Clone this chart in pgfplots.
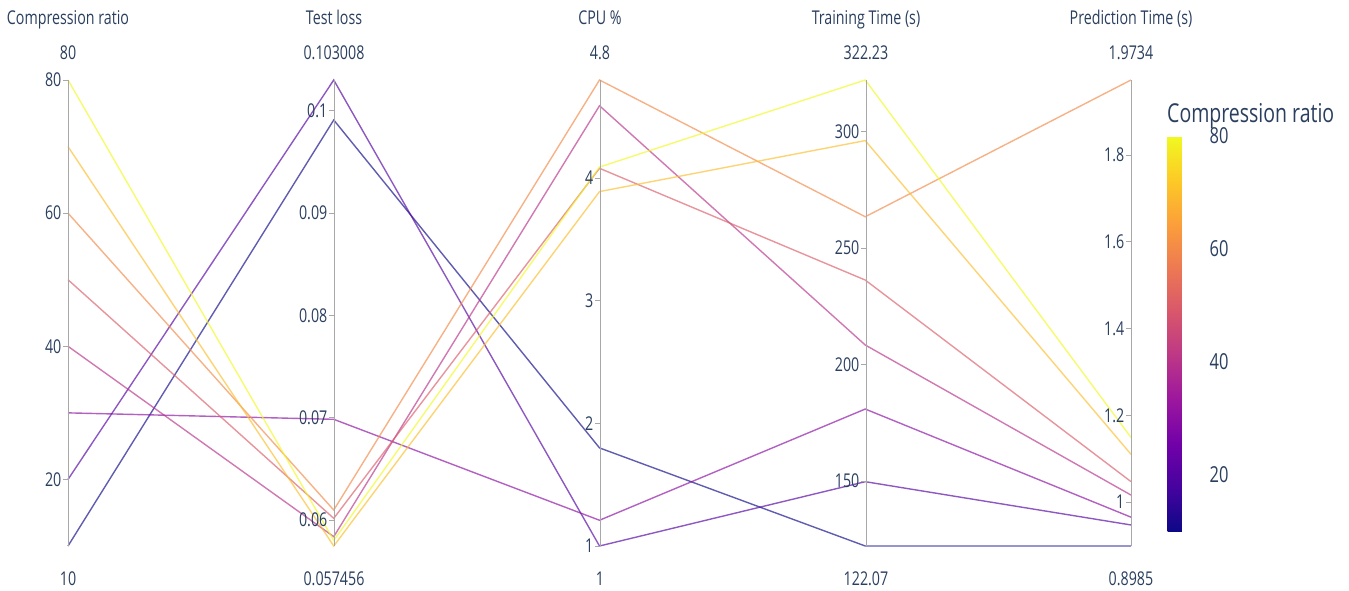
\documentclass[border=0pt]{standalone}
\usepackage{pgfplots}
\pgfplotsset{compat=1.18}
\usepackage{pgfplotstable}
\usepackage{fontspec}
\setmainfont{Open Sans}[FakeStretch=0.75]

\definecolor{txt}{HTML}{2A3F5F}
\definecolor{axisgray}{HTML}{A8A8A8}

\pgfplotsset{
  colormap={plasma}{
    rgb255=(13,8,135) rgb255=(70,3,159) rgb255=(114,1,168) rgb255=(156,23,158)
    rgb255=(189,55,134) rgb255=(216,87,107) rgb255=(237,121,83) rgb255=(251,159,58)
    rgb255=(253,202,38) rgb255=(240,249,33)},
}

\newcommand\labfont{\fontsize{19}{22}\selectfont}

% one row per dimension; lo/hi are the axis ranges, rNN the run with compression ratio NN
\pgfplotstableread{
dim lo        hi        r10      r20      r30     r40     r50     r60     r70      r80
0   10        80        10       20       30      40      50      60      70       80
1   0.057456  0.103008  0.099098 0.103008 0.06984 0.05837 0.06016 0.06097 0.057456 0.05800
2   1         4.8       1.80     1        1.21    4.59    4.08    4.8     3.89     4.09
3   122.07    322.23    122.07   149.7    180.9   208.4   236.3   263.5   296.2    322.23
4   0.8985    1.9734    0.8985   0.947    0.965   1.016   1.047   1.9734  1.110    1.149
}\runs

\pgfplotsset{
  dimaxis/.style={
    anchor=south west, scale only axis, width=1pt, height=466pt,
    xmin=0, xmax=1, hide x axis, axis y line*=left,
    y axis line style={draw=axisgray, line width=0.8pt},
    ytick style={draw=axisgray, line width=0.8pt},
    tick align=outside, major tick length=5pt,
    yticklabel style={font=\labfont, text=txt, inner sep=1.5pt},
    scaled y ticks=false,
    /pgf/number format/assume math mode=true,
    /pgf/number format/fixed,
  },
  run/.style={line width=1.4pt, draw opacity=0.66, color of colormap={#1 of plasma}},
}

\newcommand\runplot[2]{%
  \addplot[run=#2] table[x=dim, y expr={(\thisrow{#1}-\thisrow{lo})/(\thisrow{hi}-\thisrow{lo})}] {\runs};
}

\begin{document}
\begin{tikzpicture}
\path[use as bounding box] (0,0) rectangle (1349pt,590pt);

% polylines of the eight runs on a common normalised scale
\begin{axis}[
  at={(68pt,44pt)}, anchor=south west,
  scale only axis, width=1063pt, height=466pt,
  xmin=0, xmax=4, ymin=0, ymax=1,
  axis line style={draw=none}, xtick=\empty, ytick=\empty,
  clip=false, no marks,
  colormap name=plasma,
  point meta min=10, point meta max=80,
  colorbar,
  colorbar style={
    at={(parent axis.north east)}, anchor=north west,
    xshift=28pt, yshift=-56pt,
    scale only axis, width=40pt, height=395pt,
    ytick={20,40,60,80}, xtick=\empty,
    major tick length=0pt,
    axis line style={draw=none},
    yticklabel style={font=\fontsize{22}{24}\selectfont, text=txt, inner sep=2pt},
    /pgf/number format/assume math mode=true,
  },
]
\runplot{r10}{0}
\runplot{r20}{142.857}
\runplot{r30}{285.714}
\runplot{r40}{428.571}
\runplot{r50}{571.429}
\runplot{r60}{714.286}
\runplot{r70}{857.143}
\runplot{r80}{1000}
\end{axis}

% one vertical axis per dimension
\begin{axis}[dimaxis, at={(68pt,44pt)}, ymin=10, ymax=80, ytick={20,40,60,80}]
\end{axis}
\begin{axis}[dimaxis, at={(334pt,44pt)}, ymin=0.057456, ymax=0.103008,
  ytick={0.06,0.07,0.08,0.09,0.1}]
\end{axis}
\begin{axis}[dimaxis, at={(600pt,44pt)}, ymin=1, ymax=4.8, ytick={1,2,3,4}]
\end{axis}
\begin{axis}[dimaxis, at={(866pt,44pt)}, ymin=122.07, ymax=322.23,
  ytick={150,200,250,300}]
\end{axis}
\begin{axis}[dimaxis, at={(1131pt,44pt)}, ymin=0.8985, ymax=1.9734,
  ytick={1,1.2,1.4,1.6,1.8}]
\end{axis}

% dimension titles and range labels
\begin{scope}[every node/.style={font=\labfont, text=txt, anchor=base, inner sep=0pt}]
\node at (68pt,565pt) {Compression ratio};
\node at (334pt,565pt) {Test loss};
\node at (600pt,565pt) {CPU \%};
\node at (866pt,565pt) {Training Time (s)};
\node at (1131pt,565pt) {Prediction Time (s)};
\node at (68pt,530pt) {80};
\node at (334pt,530pt) {0.103008};
\node at (600pt,530pt) {4.8};
\node at (866pt,530pt) {322.23};
\node at (1131pt,530pt) {1.9734};
\node at (68pt,5pt) {10};
\node at (334pt,5pt) {0.057456};
\node at (600pt,5pt) {1};
\node at (866pt,5pt) {122.07};
\node at (1131pt,5pt) {0.8985};
\end{scope}
\node[font=\fontsize{26}{28}\selectfont, text=txt, anchor=base west, inner sep=0pt]
  at (1167pt,467pt) {Compression ratio};
\end{tikzpicture}
\end{document}
